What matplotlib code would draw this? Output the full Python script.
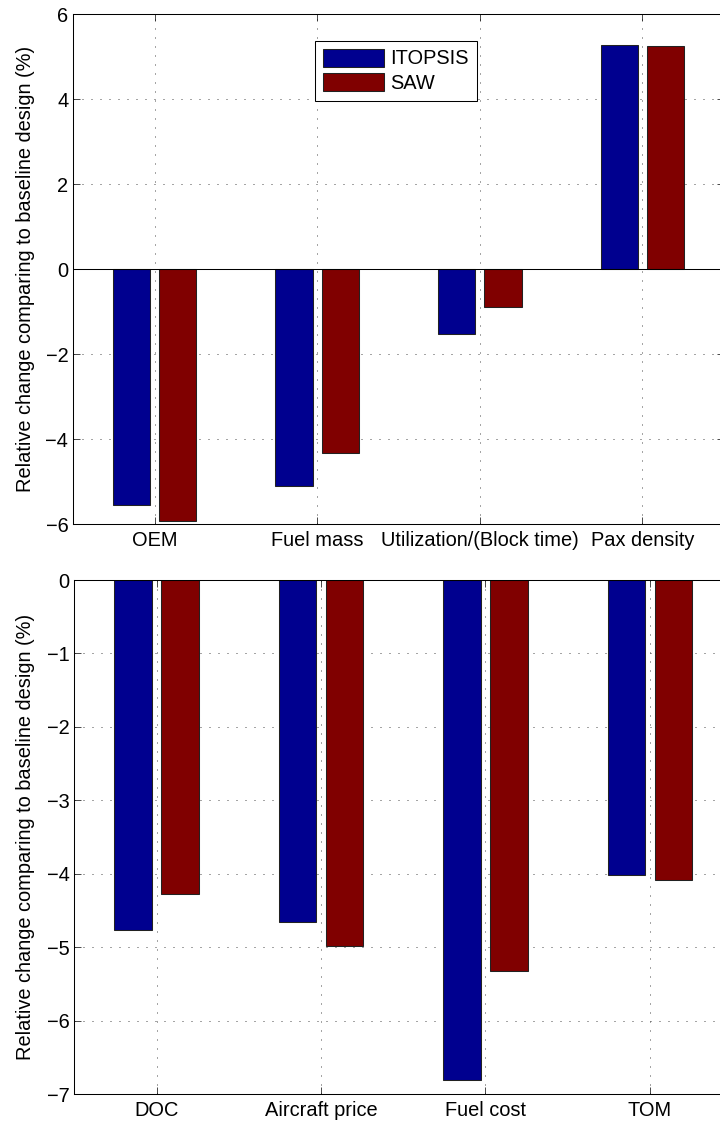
import numpy as np
import matplotlib
matplotlib.use('Agg')
import matplotlib.pyplot as plt

plt.rcParams['font.family'] = ['Liberation Sans', 'DejaVu Sans']
plt.rcParams['font.size'] = 14.4

# values (% change vs baseline design)
top_labels = ['OEM', 'Fuel mass', 'Utilization/(Block time)', 'Pax density']
itopsis_top = [-5.54, -5.10, -1.52, 5.26]
saw_top = [-5.92, -4.32, -0.89, 5.25]

bottom_labels = ['DOC', 'Aircraft price', 'Fuel cost', 'TOM']
itopsis_bot = [-4.77, -4.66, -6.81, -4.01]
saw_bot = [-4.27, -4.98, -5.32, -4.08]

series_names = ['ITOPSIS', 'SAW']
blue = '#00008f'
red = '#800000'

fig = plt.figure(figsize=(7.2, 11.24), dpi=100)

ax1 = fig.add_axes((73.3/720, 1 - 524.3/1124, 650.4/720, 510.3/1124))
ax2 = fig.add_axes((74.4/720, 1 - 1094.3/1124, 657.6/720, 514.3/1124))

# matlab style grouped bars
offset = 0.1429
width = 0.2286
ylab = 'Relative change comparing to baseline design (%)'


def draw(ax, labels, a, b, ylim, yticks):
    x = np.arange(1, len(labels) + 1)
    ax.bar(x - offset, a, width, color=blue, edgecolor='#222222', linewidth=0.75,
           label=series_names[0], zorder=2)
    ax.bar(x + offset, b, width, color=red, edgecolor='#222222', linewidth=0.75,
           label=series_names[1], zorder=2)
    ax.set_xlim(0.5, len(labels) + 0.5)
    ax.set_ylim(*ylim)
    ax.set_xticks(x)
    ax.set_xticklabels(labels)
    ax.set_yticks(yticks)
    ax.set_yticklabels([('\u2212%d' % -t) if t < 0 else '%d' % t for t in yticks])
    ax.grid(True, linestyle=(0, (1, 8)), linewidth=0.72, color='0.3')
    ax.set_axisbelow(True)
    ax.tick_params(direction='in', length=4.7, width=0.5, top=True, right=True)
    ax.tick_params(axis='x', pad=4.8)
    ax.tick_params(axis='y', pad=3.6)
    for s in ax.spines.values():
        s.set_linewidth(0.75)
    ax.set_ylabel(ylab)


draw(ax1, top_labels, itopsis_top, saw_top, (-6, 6), [-6, -4, -2, 0, 2, 4, 6])
ax1.axhline(0, color='k', linewidth=0.75, zorder=3)
ax1.yaxis.set_label_coords(-0.059, 0.5)

draw(ax2, bottom_labels, itopsis_bot, saw_bot, (-7, 0), [-7, -6, -5, -4, -3, -2, -1, 0])
ax2.yaxis.set_label_coords(-0.06, 0.5)

leg = ax1.legend(loc='upper left', bbox_to_anchor=(0.3716, 0.9477), borderaxespad=0,
                 fancybox=False, framealpha=1, edgecolor='k',
                 handlelength=3.05, handleheight=1.0, handletextpad=0.33,
                 borderpad=0.4, labelspacing=0.25)
leg.get_frame().set_linewidth(0.75)

fig.savefig('out.png', dpi=100)
